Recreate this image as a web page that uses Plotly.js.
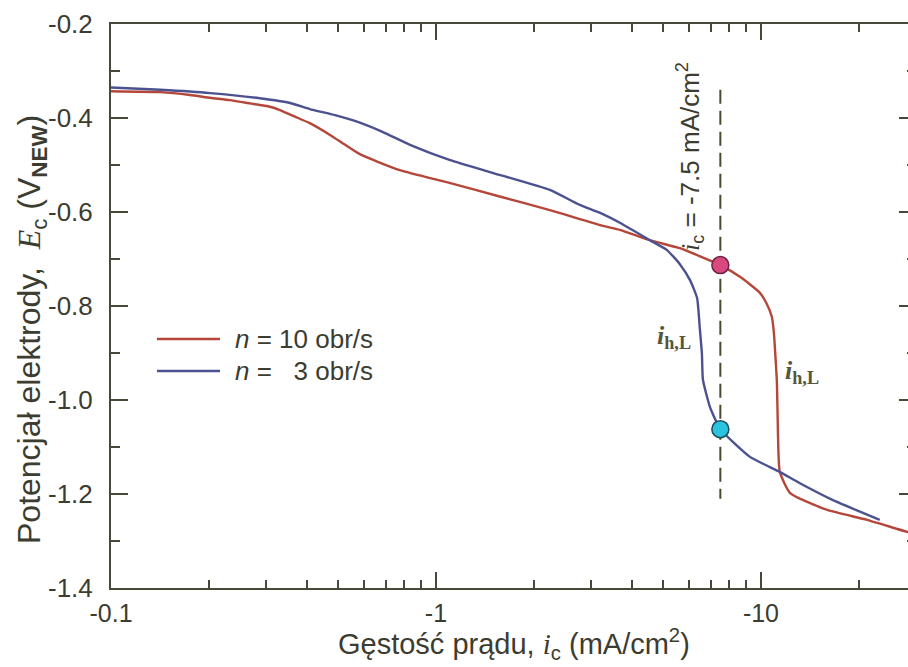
<!DOCTYPE html>
<html>
<head>
<meta charset="utf-8">
<script src="https://cdn.plot.ly/plotly-3.0.1.min.js"></script>
<style>
  html, body { margin: 0; padding: 0; background: #ffffff; overflow: hidden; }
  #chart { width: 916px; height: 667px; }
</style>
</head>
<body>
<div id="chart"></div>
<script>
// Cathodic polarisation curves, current density i_c (mA/cm2) vs electrode potential E_c (V vs NEW)
// n = 10 rev/s
const i10 = [-0.100, -0.142, -0.175, -0.202, -0.232, -0.268, -0.308, -0.331, -0.368, -0.409,
             -0.472, -0.525, -0.583, -0.774, -1.10, -1.57, -2.24, -2.77, -3.20, -3.68,
             -4.55, -5.63, -6.58, -7.50, -8.62, -9.93, -10.4, -10.8, -10.96, -11.05,
             -11.2, -11.28, -11.43, -12.3, -16.0, -21.2, -28.3, -30.0];
const E10 = [-0.343, -0.345, -0.351, -0.357, -0.362, -0.369, -0.376, -0.383, -0.397, -0.411,
             -0.436, -0.457, -0.477, -0.511, -0.538, -0.567, -0.596, -0.615, -0.628, -0.638,
             -0.660, -0.677, -0.696, -0.713, -0.738, -0.772, -0.794, -0.823, -0.857, -0.894,
             -0.964, -1.070, -1.153, -1.198, -1.234, -1.255, -1.281, -1.285];
// n = 3 rev/s
const i3 = [-0.100, -0.142, -0.202, -0.287, -0.356, -0.409, -0.489, -0.583, -0.687, -0.832,
            -1.10, -1.57, -2.24, -2.77, -3.20, -3.68, -4.55, -5.14, -5.63, -6.05,
            -6.36, -6.49, -6.58, -6.63, -6.97, -7.50, -9.25, -11.43, -13.18, -16.66,
            -23.2];
const E3 = [-0.335, -0.340, -0.347, -0.358, -0.368, -0.381, -0.394, -0.410, -0.430, -0.457,
            -0.489, -0.521, -0.553, -0.585, -0.602, -0.623, -0.660, -0.681, -0.711, -0.745,
            -0.783, -0.851, -0.900, -0.957, -1.015, -1.062, -1.121, -1.153, -1.177, -1.213,
            -1.255];

// reference current density and the potentials reached there
const iRef = -7.5;
const refLineE = [-0.340, -1.210];
const refE10 = -0.713;
const refE3 = -1.062;

// axis ticks
const xTickVals = [-0.1, -1, -10];
const xTickText = ["-0.1", "-1", "-10"];
const xMinorVals = [-0.2, -0.3, -0.4, -0.5, -0.6, -0.7, -0.8, -0.9,
                    -2, -3, -4, -5, -6, -7, -8, -9, -20, -30];
const yTickVals = [-1.4, -1.2, -1.0, -0.8, -0.6, -0.4, -0.2];
const yTickText = ["-1.4", "-1.2", "-1.0", "-0.8", "-0.6", "-0.4", "-0.2"];

const red = "#b5473a";
const blue = "#4c5190";
const ink = "#3c3c30";
const axisInk = "#48483a";
const sans = "Liberation Sans, Arial, sans-serif";
const serif = "Liberation Serif, Times New Roman, serif";

const mag = a => a.map(v => Math.abs(v));

const traces = [
  { x: mag(i10), y: E10, mode: "lines", line: { color: red, width: 2.4, shape: "spline", smoothing: 0.5 }, hoverinfo: "skip" },
  { x: mag(i3), y: E3, mode: "lines", line: { color: blue, width: 2.4, shape: "spline", smoothing: 0.5 }, hoverinfo: "skip" },
  { x: mag([iRef, iRef]), y: refLineE, mode: "lines",
    line: { color: "#4a4a30", width: 2, dash: "14px,7px" }, hoverinfo: "skip" },
  { x: mag([iRef]), y: [refE10], mode: "markers",
    marker: { size: 17, color: "#d9487f", line: { color: "#6b2443", width: 1.5 } }, hoverinfo: "skip" },
  { x: mag([iRef]), y: [refE3], mode: "markers",
    marker: { size: 17, color: "#2cc3de", line: { color: "#1d4e5e", width: 1.5 } }, hoverinfo: "skip" }
];

// plot-area pixel helpers for placing labels in paper coordinates
const L = 111, T = 24, W = 805, H = 564;
const px = x => (x - L) / W;
const py = y => (T + H - y) / H;

const ihL = '<span style="font-family:' + serif + '"><b><i>i</i></b><sub><b>h,L</b></sub></span>';
const xTitle = 'Gęstość prądu, <span style="font-family:' + serif + '"><i>i</i></span><sub>c</sub> (mA/cm<sup>2</sup>)';
const yTitle = 'Potencjał elektrody,&nbsp;&nbsp;<span style="font-family:' + serif + '"><i>E</i></span><sub>c</sub> (V<sub><b>NEW</b></sub>)';

const layout = {
  width: 916, height: 667,
  margin: { l: 111, r: 0, t: 24, b: 79, pad: 0 },
  paper_bgcolor: "#ffffff", plot_bgcolor: "#ffffff",
  showlegend: false,
  font: { family: sans, color: ink, size: 20 },
  xaxis: {
    type: "log",
    range: [-1, Math.log10(30)],
    tickmode: "array", tickvals: mag(xTickVals), ticktext: xTickText,
    ticks: "inside", ticklen: 16, tickwidth: 2, tickcolor: axisInk,
    minor: { tickmode: "array", tickvals: mag(xMinorVals), ticks: "inside", ticklen: 8, tickwidth: 2, tickcolor: axisInk },
    showline: true, linecolor: axisInk, linewidth: 2, mirror: "allticks",
    showgrid: false, zeroline: false,
    tickfont: { family: sans, size: 25, color: ink },
    ticklabelstandoff: 2
  },
  yaxis: {
    range: [-1.4, -0.2],
    tickmode: "array", tickvals: yTickVals, ticktext: yTickText,
    ticks: "inside", ticklen: 17, tickwidth: 2, tickcolor: axisInk,
    minor: { dtick: 0.1, ticks: "inside", ticklen: 9, tickwidth: 2, tickcolor: axisInk },
    showline: true, linecolor: axisInk, linewidth: 2, mirror: "allticks",
    showgrid: false, zeroline: false,
    tickfont: { family: sans, size: 26, color: ink },
    ticklabelstandoff: 11
  },
  shapes: [
    { type: "line", xref: "paper", yref: "paper", x0: px(157), x1: px(220), y0: py(339), y1: py(339),
      line: { color: red, width: 2.5 } },
    { type: "line", xref: "paper", yref: "paper", x0: px(157), x1: px(220), y0: py(371), y1: py(371),
      line: { color: blue, width: 2.5 } }
  ],
  annotations: [
    // axis titles
    { xref: "paper", yref: "paper", x: px(514), y: py(644), xanchor: "center", yanchor: "middle",
      showarrow: false, text: xTitle, font: { family: sans, size: 29, color: ink } },
    { xref: "paper", yref: "paper", x: px(31), y: py(330), xanchor: "center", yanchor: "middle",
      showarrow: false, textangle: -90, text: yTitle, font: { family: sans, size: 32, color: ink } },
    // legend
    { xref: "paper", yref: "paper", x: px(233), y: py(339), xanchor: "left", yanchor: "middle",
      showarrow: false, text: "<i>n</i> = 10 obr/s", font: { family: sans, size: 26, color: ink } },
    { xref: "paper", yref: "paper", x: px(233), y: py(371), xanchor: "left", yanchor: "middle",
      showarrow: false, text: "<i>n</i> =&nbsp;&nbsp;&nbsp;3 obr/s", font: { family: sans, size: 26, color: ink } },
    // reference current density label and limiting current labels
    { xref: "paper", yref: "paper", x: px(690), y: py(157), xanchor: "center", yanchor: "middle",
      showarrow: false, textangle: -90,
      text: '<span style="font-family:' + serif + '"><i>i</i></span><sub>c</sub> = -7.5 mA/cm<sup>2</sup>',
      font: { family: sans, size: 26, color: ink } },
    { xref: "paper", yref: "paper", x: px(674), y: py(337), xanchor: "center", yanchor: "middle",
      showarrow: false, text: ihL, font: { family: serif, size: 26, color: "#56563a" } },
    { xref: "paper", yref: "paper", x: px(802), y: py(372), xanchor: "center", yanchor: "middle",
      showarrow: false, text: ihL, font: { family: serif, size: 26, color: "#56563a" } }
  ]
};

Plotly.newPlot("chart", traces, layout, { staticPlot: true, displayModeBar: false });
</script>
</body>
</html>
